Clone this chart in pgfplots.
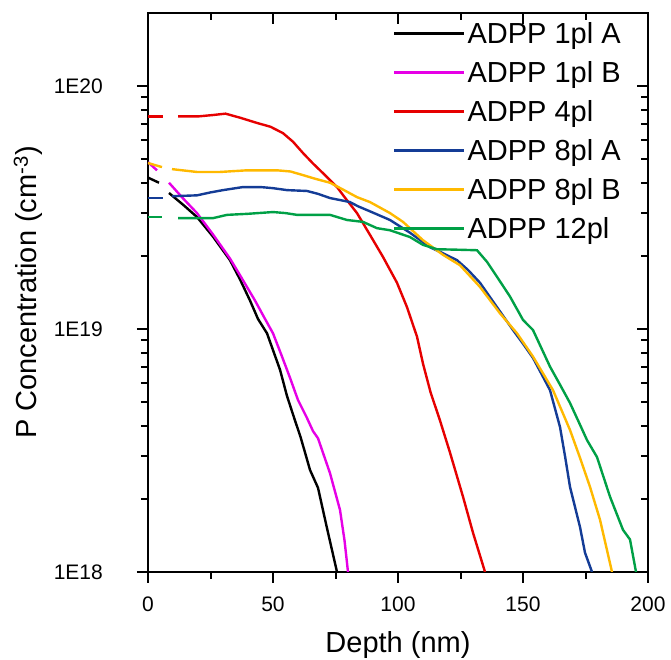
\documentclass[border=0pt]{standalone}
\usepackage{fontspec}
\setmainfont{Liberation Sans}
\usepackage{pgfplots}
\pgfplotsset{compat=1.18}

\definecolor{cMag}{RGB}{230,0,230}
\definecolor{cRed}{RGB}{230,0,0}
\definecolor{cBlue}{RGB}{20,60,150}
\definecolor{cYel}{RGB}{255,185,0}
\definecolor{cGrn}{RGB}{0,160,70}

\pgfplotsset{
  simsbox/.style={
    width=500pt, height=559pt, scale only axis,
    xmin=0, xmax=200, ymin=1e18, ymax=2e20,
    axis line style={line width=2.2pt},
    tick style={line width=2pt, black},
    major tick style={line width=2pt, black},
    minor tick style={line width=2pt, black},
    major tick length=11pt, minor tick length=7pt,
    xtick={0,50,...,200}, minor xtick={25,75,125,175},
    ytick={1e18,1e19,1e20},
    minor ytick={2e18,3e18,4e18,5e18,6e18,7e18,8e18,9e18,
                 2e19,3e19,4e19,5e19,6e19,7e19,8e19,9e19},
  },
  every axis plot/.append style={line width=2.4pt},
}

\begin{document}
\begin{tikzpicture}
% mirrored ticks on top and right point inwards
\begin{semilogyaxis}[simsbox, tick align=inside, xtick pos=right, ytick pos=right,
  xticklabels={}, yticklabels={}]
\end{semilogyaxis}

\begin{semilogyaxis}[simsbox, tick align=outside, xtick pos=left, ytick pos=left,
  tick label style={font=\fontsize{21}{25}\selectfont, inner sep=0pt},
  /pgf/number format/assume math mode=true,
  yticklabels={1E18,1E19,1E20},
  yticklabel style={anchor=east, xshift=-34pt},
  xticklabel style={anchor=north, yshift=-14pt},
  label style={font=\fontsize{29}{33}\selectfont, inner sep=0pt},
  xlabel={Depth (nm)},
  xlabel style={at={(axis description cs:0.5,-0.1449)}, anchor=base},
  ylabel={P Concentration (cm\textsuperscript{-3})},
  ylabel style={at={(axis description cs:-0.222,0.5)}, anchor=base},
  legend style={draw=none, fill=none, font=\fontsize{29}{33}\selectfont,
    at={(rel axis cs:0.49,0.9875)}, anchor=north west,
    row sep=12.5pt, inner sep=0pt},
  legend cell align=left,
  legend image code/.code={\draw[#1, line width=2.4pt] (0pt,0pt) -- (70pt,0pt);},
]

\addplot[black] coordinates {(8.4,3.63e19) (14,3.25e19) (19.6,2.89e19) (26,2.4e19)
  (32.8,1.92e19) (36.8,1.6e19) (40.8,1.31e19) (44,1.1e19) (47.6,9.6e18)
  (52.8,6.8e18) (55.6,5.3e18) (58.8,4.2e18) (61,3.6e18) (64.8,2.63e18)
  (68,2.22e18) (71.5,1.53e18) (75.6,1e18)};
\addlegendentry{ADPP 1pl A}

\addplot[cMag] coordinates {(8.4,4.0e19) (14,3.45e19) (19.6,3.0e19) (26,2.45e19)
  (32.8,1.95e19) (37.8,1.6e19) (42.8,1.31e19) (46.4,1.12e19) (50,9.6e18)
  (53.4,7.8e18) (56.8,6.3e18) (60,5.1e18) (63.6,4.3e18) (66,3.8e18)
  (68,3.55e18) (72.8,2.55e18) (76.8,1.8e18) (78.6,1.35e18) (80,1e18)};
\addlegendentry{ADPP 1pl B}

\addplot[cRed] coordinates {(12,7.5e19) (20,7.5e19) (26,7.6e19) (31,7.7e19)
  (37,7.4e19) (43.6,7.05e19) (49,6.8e19) (54,6.4e19) (58,5.9e19) (62,5.3e19)
  (66,4.8e19) (70,4.38e19) (75.6,3.84e19) (79,3.45e19) (83.6,3.0e19)
  (88.8,2.44e19) (94,1.98e19) (99.6,1.55e19) (103.6,1.23e19) (107.6,9.3e18)
  (110,7.2e18) (113,5.5e18) (116.8,4.2e18) (120.8,3.1e18) (126,2.04e18)
  (130,1.45e18) (134.8,1e18)};
\addlegendentry{ADPP 4pl}

\addplot[cBlue] coordinates {(9.6,3.52e19) (19.6,3.55e19) (25,3.65e19) (30,3.73e19)
  (38,3.84e19) (45,3.84e19) (50,3.8e19) (55.6,3.73e19) (63.6,3.7e19) (68,3.6e19)
  (72.8,3.46e19) (80.8,3.33e19) (84,3.2e19) (88.8,3.05e19) (96.8,2.81e19)
  (104.8,2.49e19) (112.8,2.17e19) (118,2.05e19) (123.6,1.92e19) (128,1.75e19)
  (132.8,1.55e19) (139.6,1.23e19) (146,9.9e18) (150,8.7e18) (154,7.6e18)
  (157.5,6.5e18) (160.8,5.6e18) (164.8,3.95e18) (166.8,3.0e18) (168.8,2.24e18)
  (172.8,1.53e18) (174.8,1.2e18) (177.6,1e18)};
\addlegendentry{ADPP 8pl A}

\addplot[cYel] coordinates {(9.6,4.55e19) (19.6,4.43e19) (28.8,4.43e19) (39.6,4.5e19)
  (51.6,4.5e19) (57,4.45e19) (62,4.3e19) (67,4.15e19) (72.8,4.0e19) (78,3.75e19)
  (83.6,3.49e19) (88.8,3.33e19) (96.8,3.0e19) (102,2.76e19) (110,2.32e19)
  (118,2.02e19) (124.8,1.83e19) (132.8,1.49e19) (140.8,1.16e19) (147.6,9.6e18)
  (154,7.7e18) (162,5.6e18) (168.8,3.84e18) (172.8,2.95e18) (176.8,2.24e18)
  (180.8,1.64e18) (185.6,1e18)};
\addlegendentry{ADPP 8pl B}

\addplot[cGrn] coordinates {(12,2.86e19) (26,2.86e19) (31.6,2.95e19) (40,2.98e19)
  (50,3.03e19) (55,3.0e19) (59.6,2.95e19) (72.8,2.95e19) (79.6,2.81e19)
  (86,2.76e19) (91.6,2.6e19) (96.8,2.55e19) (104.8,2.39e19) (110,2.22e19)
  (115.6,2.13e19) (124,2.12e19) (131.6,2.11e19) (135.6,1.89e19) (139.6,1.64e19)
  (144.8,1.36e19) (150,1.09e19) (154,9.9e18) (160.8,7.0e18) (164.8,5.9e18)
  (168.8,4.96e18) (172.5,4.1e18) (175.6,3.49e18) (179.6,2.97e18) (184.8,2.04e18)
  (190,1.49e18) (192.8,1.36e18) (195.2,1e18)};
\addlegendentry{ADPP 12pl}

% short dashes at the surface
\addplot[black, forget plot] coordinates {(0,4.2e19) (4.4,4.0e19)};
\addplot[cMag, forget plot] coordinates {(0,4.86e19) (3.6,4.5e19)};
\addplot[cRed, forget plot] coordinates {(0,7.5e19) (6,7.5e19)};
\addplot[cBlue, forget plot] coordinates {(0,3.46e19) (6,3.46e19)};
\addplot[cYel, forget plot] coordinates {(0,4.82e19) (5.6,4.64e19)};
\addplot[cGrn, forget plot] coordinates {(0,2.89e19) (5.6,2.89e19)};
\end{semilogyaxis}
% white margin round the frame
\path (current axis.north) ++(0pt,13pt) coordinate (padtop);
\path (current axis.east) ++(23pt,0pt) coordinate (padright);
\path (current axis.west) ++(-148pt,0pt) coordinate (padleft);
\end{tikzpicture}
\end{document}
